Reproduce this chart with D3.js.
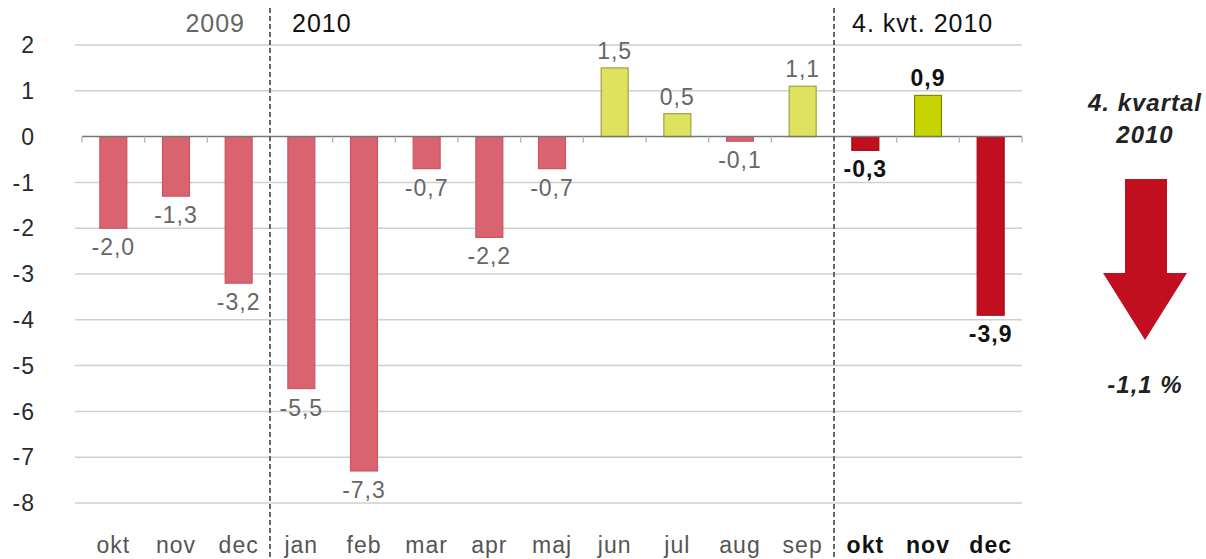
<!DOCTYPE html>
<html>
<head>
<meta charset="utf-8">
<script src="https://cdn.jsdelivr.net/npm/d3@7"></script>
<style>
  body { margin: 0; background: #fff; }
  svg { font-family: "Liberation Sans", Arial, sans-serif; }
</style>
</head>
<body>
<svg width="1206" height="559"></svg>
<script>
const months = ['okt','nov','dec','jan','feb','mar','apr','maj','jun','jul','aug','sep','okt','nov','dec'];
const values = [-2.0,-1.3,-3.2,-5.5,-7.3,-0.7,-2.2,-0.7,1.5,0.5,-0.1,1.1,-0.3,0.9,-3.9];
const yTicks = [2,1,0,-1,-2,-3,-4,-5,-6,-7,-8];
const periods = ['2009','2010','4. kvt. 2010'];
const quarterTitle = ['4. kvartal','2010'];
const quarterValue = '-1,1 %';

const svg = d3.select('svg');
const keys = months.map((m,i) => i);
const x = d3.scaleBand().domain(keys).range([82, 1022]).paddingInner(0.57).paddingOuter(0.285);
const y = d3.scaleLinear().domain([-8, 2]).range([503, 45]);
const isQ4 = i => i >= 12;
const fmt = v => d3.format('.1f')(v).replace('.', ',').replace('−','-');

// gridlines
svg.append('g').selectAll('line').data(yTicks.filter(d => d !== 0)).join('line')
  .attr('x1', 75).attr('x2', 1022)
  .attr('y1', d => y(d)).attr('y2', d => y(d))
  .attr('stroke', '#cfcfcf').attr('stroke-width', 1.5);

// y labels
svg.append('g').selectAll('text').data(yTicks).join('text')
  .attr('x', 35).attr('y', d => y(d)).attr('dy', '0.36em')
  .attr('text-anchor', 'end').attr('font-size', 23).attr('letter-spacing', 1).attr('fill', '#2a2a2a')
  .text(d => d3.format('d')(d).replace('−','-'));

// bars
const barColor = (v,i) => isQ4(i) ? (v < 0 ? '#c20f20' : '#c6d400') : (v < 0 ? '#d9646f' : '#dfe25e');
const barStroke = (v,i) => isQ4(i) ? (v < 0 ? '#a00c18' : '#7f8a00') : (v < 0 ? '#c85560' : '#9fa040');
svg.append('g').selectAll('rect').data(values).join('rect')
  .attr('x', (d,i) => x(i))
  .attr('width', x.bandwidth())
  .attr('y', d => y(Math.max(0, d)))
  .attr('height', d => Math.abs(y(d) - y(0)))
  .attr('fill', (d,i) => barColor(d,i))
  .attr('stroke', (d,i) => barStroke(d,i)).attr('stroke-width', 1.2);

// zero line with ticks
svg.append('line').attr('x1', 82).attr('x2', 1022).attr('y1', y(0)).attr('y2', y(0))
  .attr('stroke', '#777').attr('stroke-width', 1.5);
const step = x.step();
svg.append('g').selectAll('line').data(d3.range(16)).join('line')
  .attr('x1', d => 82 + d * step).attr('x2', d => 82 + d * step)
  .attr('y1', y(0)).attr('y2', y(0) + 6)
  .attr('stroke', '#bbb').attr('stroke-width', 1.5);

// value labels
svg.append('g').selectAll('text').data(values).join('text')
  .attr('x', (d,i) => x(i) + x.bandwidth() / 2)
  .attr('y', d => d >= 0 ? y(d) - 9 : y(d) + 27)
  .attr('text-anchor', 'middle')
  .attr('font-size', 23).attr('letter-spacing', 1)
  .attr('font-weight', (d,i) => isQ4(i) ? 'bold' : 'normal')
  .attr('fill', (d,i) => isQ4(i) ? '#111' : '#666')
  .text(d => fmt(d));

// month labels
svg.append('g').selectAll('text').data(months).join('text')
  .attr('x', (d,i) => x(i) + x.bandwidth() / 2)
  .attr('y', 553)
  .attr('text-anchor', 'middle')
  .attr('font-size', 23).attr('letter-spacing', 1)
  .attr('font-weight', (d,i) => isQ4(i) ? 'bold' : 'normal')
  .attr('fill', (d,i) => isQ4(i) ? '#111' : '#555')
  .text(d => d);

// separators
[3, 12].forEach(k => {
  const sx = 82 + k * step;
  svg.append('line').attr('x1', sx).attr('x2', sx).attr('y1', 8).attr('y2', 559)
    .attr('stroke', '#666').attr('stroke-width', 2).attr('stroke-dasharray', '5,3');
});

// period headers
const s1 = 82 + 3 * step, s2 = 82 + 12 * step;
svg.append('text').attr('x', s1 - 25).attr('y', 32).attr('text-anchor', 'end')
  .attr('font-size', 25).attr('letter-spacing', 1).attr('fill', '#666').text(periods[0]);
svg.append('text').attr('x', s1 + 22).attr('y', 32)
  .attr('font-size', 25).attr('letter-spacing', 1).attr('fill', '#111').text(periods[1]);
svg.append('text').attr('x', s2 + 18).attr('y', 32)
  .attr('font-size', 25).attr('letter-spacing', 1).attr('fill', '#111').text(periods[2]);

// quarter summary
const cx = 1145;
svg.append('g').selectAll('text').data(quarterTitle).join('text')
  .attr('x', cx).attr('y', (d,i) => 111 + i * 32)
  .attr('text-anchor', 'middle').attr('font-size', 24).attr('letter-spacing', 1)
  .attr('font-weight', 'bold').attr('font-style', 'italic').attr('fill', '#222')
  .text(d => d);
svg.append('path')
  .attr('d', `M${cx-20},179 L${cx+22},179 L${cx+22},273 L${cx+42},273 L${cx},340 L${cx-42},273 L${cx-20},273 Z`)
  .attr('fill', '#c20f20');
svg.append('text').attr('x', cx).attr('y', 393).attr('text-anchor', 'middle')
  .attr('font-size', 24).attr('letter-spacing', 1)
  .attr('font-weight', 'bold').attr('font-style', 'italic').attr('fill', '#222')
  .text(quarterValue);
</script>
</body>
</html>
